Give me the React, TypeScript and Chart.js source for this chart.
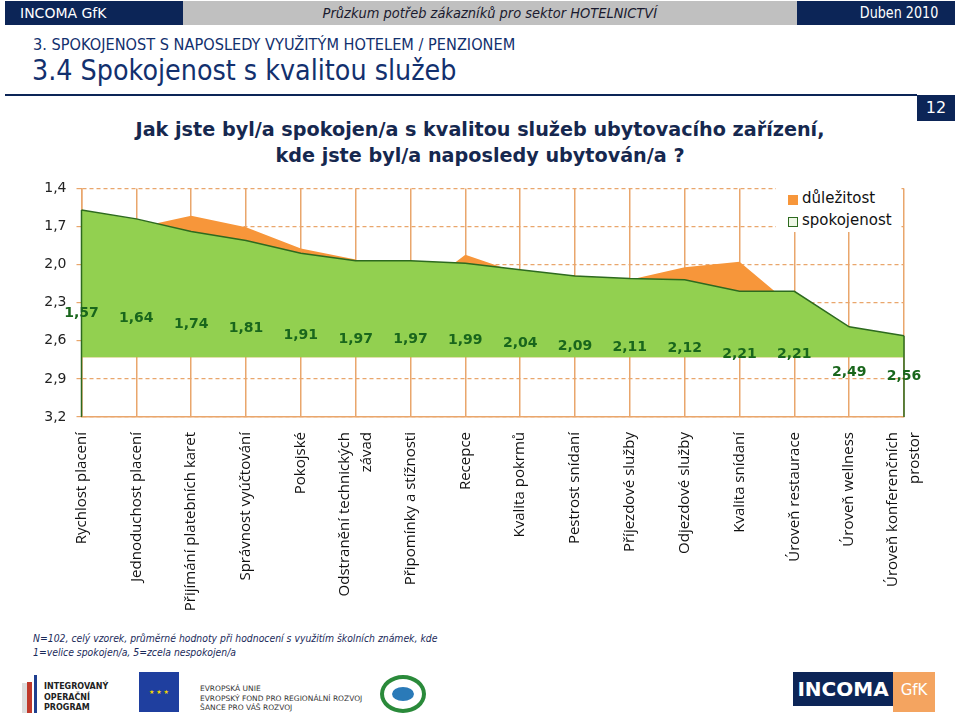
import React, { useEffect, useRef } from "react";
import { Chart, registerables } from "chart.js";

Chart.register(...registerables);

const categories: (string | string[])[] = [
  "Rychlost placení",
  "Jednoduchost placení",
  "Přijímání platebních karet",
  "Správnost vyúčtování",
  "Pokojské",
  ["Odstranění technických", "závad"],
  "Připomínky a stížnosti",
  "Recepce",
  "Kvalita pokrmů",
  "Pestrost snídaní",
  "Příjezdové služby",
  "Odjezdové služby",
  "Kvalita snídaní",
  "Úroveň restaurace",
  "Úroveň wellness",
  ["Úroveň konferenčních", "prostor"],
];

const satisfaction = [1.57, 1.64, 1.74, 1.81, 1.91, 1.97, 1.97, 1.99, 2.04, 2.09, 2.11, 2.12, 2.21, 2.21, 2.49, 2.56];
const importance = [1.8, 1.71, 1.615, 1.705, 1.874, 1.96, 2.25, 1.923, 2.07, 2.085, 2.12, 2.02, 1.977, 2.34, 2.55, 2.65];

const yTicks = [1.4, 1.7, 2.0, 2.3, 2.6, 2.9, 3.2];
const areaBase = 2.73;

const seriesNames = ["důležitost", "spokojenost"];

const NAVY = "#0c2557";
const ORANGE = "#f7963a";
const GREEN = "#92d050";
const DARKGREEN = "#2d6a1f";
const LABELGREEN = "#19661c";
const GRID = "#e9a66c";

const fmt = (v: number, d: number) => v.toFixed(d).replace(".", ",");

const edgesAndLabels = {
  id: "edgesAndLabels",
  afterDatasetsDraw(chart: any) {
    const ctx = chart.ctx;
    const y = chart.scales.y;
    const meta = chart.getDatasetMeta(1);
    const pts = meta.data;
    const bottom = y.getPixelForValue(yTicks[yTicks.length - 1]);
    ctx.save();
    ctx.strokeStyle = DARKGREEN;
    ctx.lineWidth = 1.5;
    [pts[0], pts[pts.length - 1]].forEach((p: any) => {
      ctx.beginPath();
      ctx.moveTo(p.x, p.y);
      ctx.lineTo(p.x, bottom);
      ctx.stroke();
    });
    ctx.fillStyle = LABELGREEN;
    ctx.font = "bold 14px 'DejaVu Sans'";
    ctx.textAlign = "center";
    ctx.textBaseline = "middle";
    pts.forEach((p: any, i: number) => {
      const ly = (p.y + bottom) / 2;
      ctx.fillText(fmt(satisfaction[i], 2), p.x, ly);
    });
    ctx.restore();
  },
  afterDraw(chart: any) {
    const ctx = chart.ctx;
    const xs = chart.scales.x;
    const top = xs.top + 15;
    const lh = 22;
    ctx.save();
    ctx.fillStyle = "#111";
    ctx.font = "15px 'Open Sans'";
    ctx.textAlign = "right";
    ctx.textBaseline = "middle";
    categories.forEach((c, i) => {
      const lines = Array.isArray(c) ? c : [c];
      const x = xs.getPixelForTick(i);
      ctx.save();
      ctx.translate(x, top);
      ctx.rotate(-Math.PI / 2);
      lines.forEach((ln, j) => {
        ctx.fillText(ln, 0, (j - (lines.length - 1) / 2) * lh);
      });
      ctx.restore();
    });
    ctx.restore();
  },
};

function ChartBox() {
  const ref = useRef<HTMLCanvasElement>(null);
  useEffect(() => {
    if (!ref.current) return;
    const chart = new Chart(ref.current, {
      type: "line",
      data: {
        labels: categories as any,
        datasets: [
          {
            label: seriesNames[0],
            data: importance,
            backgroundColor: ORANGE,
            borderWidth: 0,
            borderColor: ORANGE,
            pointRadius: 0,
            fill: { value: areaBase },
            order: 2,
            tension: 0,
          },
          {
            label: seriesNames[1],
            data: satisfaction,
            backgroundColor: GREEN,
            borderColor: DARKGREEN,
            borderWidth: 1.5,
            pointRadius: 0,
            fill: { value: areaBase },
            order: 1,
            tension: 0,
          },
        ],
      },
      options: {
        responsive: false,
        animation: false,
        devicePixelRatio: 1,
        layout: { padding: { top: 15, right: 56, left: 0, bottom: 0 } },
        plugins: {
          legend: { display: false },
          tooltip: { enabled: false },
        },
        scales: {
          x: {
            offset: false,
            grid: { color: GRID, lineWidth: 1.5, drawTicks: false },
            border: { color: GRID, width: 1.5 },
            ticks: { display: false, autoSkip: false },
            afterFit: (s: any) => {
              s.height = 213;
            },
          },
          y: {
            reverse: true,
            min: yTicks[0],
            max: yTicks[yTicks.length - 1],
            afterBuildTicks: (s: any) => {
              s.ticks = yTicks.map((v) => ({ value: v }));
            },
            grid: { color: GRID, lineWidth: 1.2, tickLength: 5, tickColor: GRID },
            border: { color: GRID, width: 1.5, dash: [4, 3] },
            ticks: {
              color: "#222",
              padding: 10,
              font: { family: "'DejaVu Sans'", size: 14 },
              callback: (v: any) => fmt(Number(v), 1),
            },
            afterFit: (s: any) => {
              s.width = 81.5;
            },
          },
        },
      },
      plugins: [edgesAndLabels],
    });
    return () => chart.destroy();
  }, []);
  return <canvas ref={ref} width={960} height={460} style={{ display: "block" }} />;
}

export default function App() {
  const abs = (s: React.CSSProperties): React.CSSProperties => ({ position: "absolute", ...s });
  return (
    <div style={{ position: "absolute", left: 0, top: 0, width: 960, height: 716, background: "#fff", overflow: "hidden", fontFamily: "'DejaVu Sans', sans-serif" }}>
      {/* header bar */}
      <div style={abs({ left: 5, top: 1, width: 178, height: 24, background: NAVY, color: "#fff", fontSize: 14, lineHeight: "24px", paddingLeft: 15, boxSizing: "border-box" })}>INCOMA GfK</div>
      <div style={abs({ left: 183, top: 1, width: 614, height: 24, background: "#c0c0c0", color: "#1a1a2e", lineHeight: "24px", textAlign: "center" })}>
        <span style={{ display: "inline-block", fontSize: 14, fontStyle: "italic", transform: "scaleX(0.93)" }}>
          Průzkum potřeb zákazníků pro sektor HOTELNICTVÍ
        </span>
      </div>
      <div style={abs({ left: 797, top: 1, width: 158, height: 24, background: NAVY, color: "#fff", lineHeight: "24px", textAlign: "right", paddingRight: 17, boxSizing: "border-box" })}>
        <span style={{ display: "inline-block", fontSize: 15, transform: "scaleX(0.85)", transformOrigin: "right center" }}>Duben 2010</span>
      </div>

      <div style={abs({ left: 33, top: 36, color: "#12306e", fontSize: 15, whiteSpace: "nowrap", transform: "scaleX(0.97)", transformOrigin: "left center" })}>
        3. SPOKOJENOST S NAPOSLEDY VYUŽITÝM HOTELEM / PENZIONEM
      </div>
      <div style={abs({ left: 32, top: 54, color: "#12306e", fontSize: 28, whiteSpace: "nowrap", transform: "scaleX(0.91)", transformOrigin: "left center" })}>
        3.4 Spokojenost s kvalitou služeb
      </div>
      <div style={abs({ left: 5, top: 94, width: 912, height: 2, background: NAVY })} />
      <div style={abs({ left: 917, top: 95, width: 38, height: 26, background: NAVY, color: "#fff", fontSize: 16, lineHeight: "26px", textAlign: "center" })}>12</div>

      <div style={abs({ left: 0, top: 117, width: 960, textAlign: "center", color: "#16284f", fontWeight: "bold", fontSize: 19.2, lineHeight: "26px" })}>
        Jak jste byl/a spokojen/a s kvalitou služeb ubytovacího zařízení,
        <br />
        kde jste byl/a naposledy ubytován/a ?
      </div>

      <div style={abs({ left: 0, top: 170 })}>
        <ChartBox />
      </div>

      {/* legend */}
      <div style={abs({ left: 776, top: 188, width: 124, height: 44, background: "#fff" })}>
        <div style={abs({ left: 12, top: 7, width: 10, height: 10, background: ORANGE })} />
        <div style={abs({ left: 26, top: 1, fontSize: 15, color: "#111", whiteSpace: "nowrap" })}>{seriesNames[0]}</div>
        <div style={abs({ left: 12, top: 29, width: 8, height: 8, background: "#eef7e6", border: `1px solid ${DARKGREEN}` })} />
        <div style={abs({ left: 26, top: 23, fontSize: 15, color: "#111", whiteSpace: "nowrap" })}>{seriesNames[1]}</div>
      </div>

      {/* footnote */}
      <div style={abs({ left: 33, top: 631, fontSize: 10.5, fontStyle: "italic", color: "#1a2a5a", lineHeight: "14px", whiteSpace: "nowrap", transform: "scaleX(0.885)", transformOrigin: "left top" })}>
        N=102, celý vzorek, průměrné hodnoty při hodnocení s využitím školních známek, kde
        <br />
        1=velice spokojen/a, 5=zcela nespokojen/a
      </div>

      {/* logos */}
      <div style={abs({ left: 22, top: 683, width: 5, height: 30, background: "#ddd" })} />
      <div style={abs({ left: 27, top: 682, width: 5, height: 31, background: "#c0392b" })} />
      <div style={abs({ left: 34, top: 675, width: 3, height: 38, background: "#1f3f8f" })} />
      <div style={abs({ left: 44, top: 682, fontSize: 8, fontWeight: "bold", lineHeight: "10.5px", color: "#222" })}>
        INTEGROVANÝ<br />OPERAČNÍ<br />PROGRAM
      </div>
      <div style={abs({ left: 139, top: 672, width: 40, height: 40, background: "#1f3f9f", color: "#f5d800", fontSize: 6, lineHeight: "40px", textAlign: "center" })}>★ ★ ★</div>
      <div style={abs({ left: 200, top: 684, fontSize: 7.5, lineHeight: "9.5px", color: "#333", whiteSpace: "nowrap" })}>
        EVROPSKÁ UNIE<br />EVROPSKÝ FOND PRO REGIONÁLNÍ ROZVOJ<br />ŠANCE PRO VÁŠ ROZVOJ
      </div>
      <div style={abs({ left: 380, top: 675, width: 46, height: 38, borderRadius: "50%", background: "#fff", border: "4px solid #2a8a3a", boxSizing: "border-box" })}>
        <div style={abs({ left: 8, top: 8, width: 22, height: 14, borderRadius: "50%", background: "#2a7ab8" })} />
      </div>
      <div style={abs({ left: 793, top: 672, width: 100, height: 34, background: NAVY, color: "#fff", fontWeight: "bold", fontSize: 20, lineHeight: "34px", textAlign: "center" })}>INCOMA</div>
      <div style={abs({ left: 893, top: 672, width: 42, height: 40, background: "#f4a460", color: "#fff", fontSize: 15, lineHeight: "36px", textAlign: "center" })}>GfK</div>
    </div>
  );
}
